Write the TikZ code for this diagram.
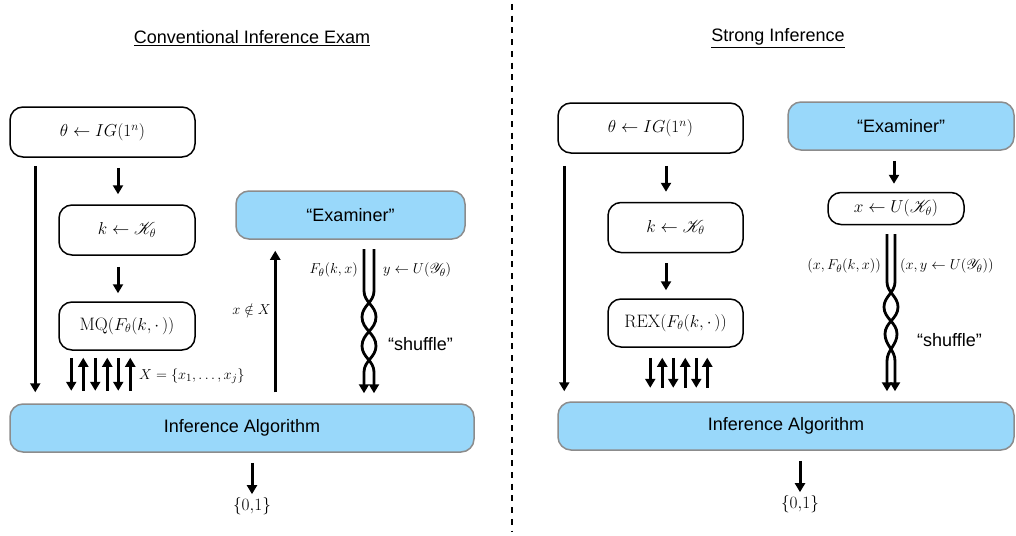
\documentclass[tikz,border=0pt]{standalone}
\usepackage{fontspec}
\usepackage{mathrsfs}
\setsansfont{Liberation Sans}
\usetikzlibrary{arrows.meta,calc}

\definecolor{exblue}{RGB}{153,216,250}
\definecolor{exgray}{RGB}{140,140,140}

\tikzset{
  stepbox/.style={draw=black, line width=1.5pt, rounded corners=13pt, inner sep=0pt,
    font=\fontsize{18}{22}\selectfont},
  bluebox/.style={draw=exgray, fill=exblue, line width=1.5pt, rounded corners=13pt, inner sep=0pt,
    font=\sffamily\fontsize{18}{22}\selectfont},
  arr/.style={line width=3pt, -{Triangle[width=10pt,length=9pt]}},
  dn/.style={arr},
  up/.style={line width=3pt, {Triangle[width=10pt,length=9pt]}-},
  strand/.style={arr, line width=2.8pt},
  lbl/.style={inner sep=0pt, font=\fontsize{15}{18}\selectfont},
  ttl/.style={inner sep=0pt, font=\sffamily\fontsize{18}{22}\selectfont},
  sepline/.style={line width=2.7pt, dash pattern=on 6pt off 5.7pt},
}

\begin{document}
\begin{tikzpicture}[x=1pt, y=-1pt]

  %% ════ canvas ════
  \path[use as bounding box] (0,0) rectangle (1016,535);

  %% ════ left: conventional exam ════
  \node[ttl] (title1) at (252,38) {\underline{Conventional Inference Exam}};

  \node[stepbox, minimum width=185, minimum height=50] (ig1)  at (102.5,132) {$\theta \leftarrow IG(1^n)$};
  \node[stepbox, minimum width=136, minimum height=50] (key1) at (127,230)   {$k \leftarrow \mathscr{K}_\theta$};
  \node[stepbox, minimum width=136, minimum height=48] (mq1)  at (127,326)   {$\mathrm{MQ}(F_\theta(k,\cdot\,))$};
  \node[bluebox, minimum width=229, minimum height=48] (exam1) at (350.5,215) {“Examiner”};
  \node[bluebox, minimum width=464, minimum height=48] (alg1) at (242,428)   {Inference Algorithm};
  \node[inner sep=0pt, font=\fontsize{18}{22}\selectfont] (out1) at (252,506) {$\{0{,}1\}$};

  \draw[arr] ($(key1.north |- ig1.south)+(-9,10)$) -- ($(key1.north)+(-9,-10)$);
  \draw[arr] ($(key1.south)+(-9,11)$) -- ($(mq1.north)+(-9,-8)$);
  \draw[arr] ($(ig1.south west)+(26,8)$) -- ($(alg1.north west)+(26,-11)$);
  \draw[arr] ($(alg1.north west)+(266,-11)$) -- ($(exam1.south west)+(40,11)$);
  \draw[arr, shorten >=3pt] ($(alg1.south -| out1.north)+(0,10)$) -- (out1.north);

  % queries / answers
  \foreach \off/\dir in {13/dn,25/up,37/dn,49/up,60/dn,72/up}
    \draw[\dir] ($(mq1.south west)+(\off,7)$) -- ($(mq1.south west)+(\off,40)$);

  % shuffled pair
  \coordinate (brL) at (369,249);
  \draw[strand] ($(brL)+(-5,0)$) -- ++(0,42) to[out=-90,in=90] ++(12,26) to[out=-90,in=90] ++(-14,29)
    to[out=-90,in=90] ++(12,26) -- ($(brL |- alg1.north)+(5,-10)$);
  \draw[strand] ($(brL)+(5,0)$) -- ++(0,42) to[out=-90,in=90] ++(-12,26) to[out=-90,in=90] ++(14,29)
    to[out=-90,in=90] ++(-12,26) -- ($(brL |- alg1.north)+(-5,-10)$);

  \node[lbl, anchor=east] (fk1)  at (358,270) {$F_\theta(k,x)$};
  \node[lbl, anchor=west] (yu1)  at (383,270) {$y \leftarrow U(\mathscr{Y}_\theta)$};
  \node[lbl, anchor=east] (nx1)  at (271,309) {$x \notin X$};
  \node[lbl, anchor=west] (qs1)  at (139,376) {$X = \{x_1, \ldots, x_j\}$};
  \node[ttl, anchor=west] (sh1)  at (388,344) {“shuffle”};

  %% ════ separator ════
  \draw[sepline] (512,4) -- (512,531);

  %% ════ right: strong inference ════
  \node[ttl] (title2) at (778,38) {\underline{Strong Inference}};

  \node[stepbox, minimum width=185, minimum height=50] (ig2)  at (650.5,128)  {$\theta \leftarrow IG(1^n)$};
  \node[stepbox, minimum width=135, minimum height=50] (key2) at (675.5,227.5) {$k \leftarrow \mathscr{K}_\theta$};
  \node[stepbox, minimum width=135, minimum height=48] (rex2) at (675.5,323)  {$\mathrm{REX}(F_\theta(k,\cdot\,))$};
  \node[bluebox, minimum width=226, minimum height=48] (exam2) at (901,126)   {“Examiner”};
  \node[stepbox, minimum width=136, minimum height=32] (xs2)  at (896,208.5)  {$x \leftarrow U(\mathscr{K}_\theta)$};
  \node[bluebox, minimum width=456, minimum height=48] (alg2) at (786,426)    {Inference Algorithm};
  \node[inner sep=0pt, font=\fontsize{18}{22}\selectfont] (out2) at (800,504) {$\{0{,}1\}$};

  \draw[arr] ($(key2.north |- ig2.south)+(-9.5,12)$) -- ($(key2.north)+(-9.5,-10)$);
  \draw[arr] ($(key2.south)+(-9.5,10)$) -- ($(rex2.north)+(-9.5,-8)$);
  \draw[arr] ($(ig2.south west)+(7,12)$) -- ($(alg2.north west)+(7,-10)$);
  \draw[arr] ($(exam2.south)+(-7,10)$) -- ($(xs2.north |- exam2.south)+(-2,33)$);
  \draw[arr, shorten >=3pt] ($(alg2.south -| out2.north)+(0,10)$) -- (out2.north);

  \foreach \off/\dir in {43/dn,55/up,66/dn,78/up,89/dn,100/up}
    \draw[\dir] ($(rex2.south west)+(\off,10)$) -- ($(rex2.south west)+(\off,40)$);

  \coordinate (brR) at (891,234);
  \draw[strand] ($(brR)+(-4,0)$) -- ++(0,48) to[out=-90,in=90] ++(11,25) to[out=-90,in=90] ++(-13,27)
    to[out=-90,in=90] ++(10,27) -- ($(brR |- alg2.north)+(4,-10)$);
  \draw[strand] ($(brR)+(4,0)$) -- ++(0,48) to[out=-90,in=90] ++(-11,25) to[out=-90,in=90] ++(13,27)
    to[out=-90,in=90] ++(-10,27) -- ($(brR |- alg2.north)+(-4,-10)$);

  \node[lbl, anchor=east] (fk2) at (881,266) {$(x, F_\theta(k,x))$};
  \node[lbl, anchor=west] (yu2) at (900,266) {$(x, y \leftarrow U(\mathscr{Y}_\theta))$};
  \node[ttl, anchor=west] (sh2) at (917,340) {“shuffle”};

\end{tikzpicture}
\end{document}
